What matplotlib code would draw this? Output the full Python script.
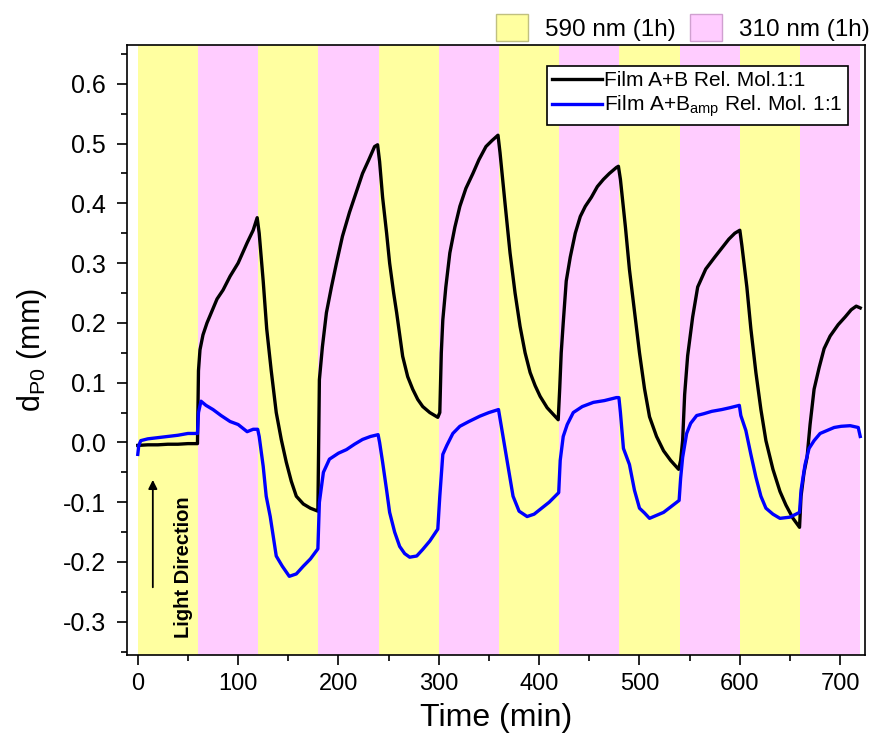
import matplotlib
matplotlib.use("Agg")
import matplotlib.pyplot as plt
from matplotlib.patches import Patch
from matplotlib.ticker import MultipleLocator, FormatStrFormatter

plt.rcParams['font.family'] = ['Liberation Sans', 'DejaVu Sans']

# illumination periods (min)
band_edges = [0, 60, 120, 180, 240, 300, 360, 420, 480, 540, 600, 660, 720]
band_light = ['590', '310', '590', '310', '590', '310', '590', '310', '590', '310', '590', '310']
light_colors = {'590': '#ffffa0', '310': '#ffccff'}

# Film A+B Rel. Mol. 1:1
t_ab = [0, 10, 20, 30, 40, 50, 59.5,
        60.5, 62, 65, 69, 74, 79, 85, 92, 100, 109, 115, 119,
        121, 125, 128.5, 133, 138, 143, 148, 153, 158, 165, 172, 179.5,
        181, 184, 188, 193, 198, 204, 211, 218, 224, 230, 236, 239,
        241, 244, 248, 251, 255, 258, 261, 264, 269, 274, 279, 284, 291, 299,
        301, 302.5, 304, 307, 311, 316, 321, 327, 334, 340, 347, 353, 359,
        361, 366, 371, 376, 381, 386, 391, 396, 401, 408, 414, 419,
        420.5, 422, 424, 427, 431, 436, 441, 446, 452, 458, 464, 470, 477, 479,
        481, 486, 490, 495, 500, 505, 510, 517, 524, 531, 539,
        541, 543, 545, 548, 553, 558, 566, 575, 582, 589, 595, 600,
        602, 607, 611, 616, 621, 626, 633, 640, 646, 653, 659.5,
        661, 664, 667, 670, 674, 679, 684, 690, 698, 705, 711, 716, 720]
d_ab = [-0.005, -0.004, -0.004, -0.003, -0.003, -0.002, -0.002,
        0.12, 0.155, 0.18, 0.20, 0.22, 0.24, 0.255, 0.278, 0.30, 0.334, 0.355, 0.376,
        0.35, 0.27, 0.19, 0.12, 0.05, 0.005, -0.033, -0.065, -0.09, -0.103, -0.11, -0.115,
        0.105, 0.16, 0.217, 0.26, 0.30, 0.345, 0.385, 0.42, 0.45, 0.472, 0.495, 0.498,
        0.47, 0.41, 0.35, 0.30, 0.25, 0.217, 0.18, 0.144, 0.11, 0.089, 0.072, 0.06, 0.05, 0.042,
        0.05, 0.15, 0.205, 0.26, 0.317, 0.36, 0.395, 0.425, 0.45, 0.473, 0.495, 0.505, 0.514,
        0.485, 0.40, 0.317, 0.25, 0.194, 0.15, 0.117, 0.095, 0.077, 0.058, 0.047, 0.038,
        0.09, 0.15, 0.20, 0.27, 0.31, 0.35, 0.378, 0.395, 0.41, 0.428, 0.44, 0.45, 0.46, 0.462,
        0.44, 0.36, 0.289, 0.22, 0.15, 0.09, 0.043, 0.01, -0.014, -0.03, -0.045,
        -0.03, 0.003, 0.08, 0.145, 0.21, 0.26, 0.29, 0.31, 0.325, 0.34, 0.35, 0.355,
        0.33, 0.26, 0.19, 0.117, 0.055, 0.003, -0.045, -0.082, -0.105, -0.127, -0.142,
        -0.09, -0.05, -0.025, 0.03, 0.089, 0.125, 0.157, 0.178, 0.197, 0.21, 0.222, 0.228, 0.225]

# Film A+B_amp Rel. Mol. 1:1
t_amp = [0, 1, 3, 10, 20, 30, 40, 50, 59.5,
         60.5, 63, 68, 75, 83, 92, 100, 109, 115, 119.5,
         121, 125, 128, 132, 138, 144, 151, 158, 165, 172, 179.5,
         181, 185, 191, 200, 208, 216, 224, 232, 239.5,
         241, 244, 248, 251, 256, 261, 266, 271, 278, 284, 291, 299,
         301, 304, 308, 314, 321, 330, 341, 350, 359.5,
         361, 364, 369, 374, 380, 388, 395, 401, 410, 419.5,
         421, 424, 428, 434, 443, 454, 465, 477, 479.5,
         481, 484, 490, 495, 500, 505, 510, 517, 524, 531, 539.5,
         541, 543, 547, 551, 557, 564, 572, 582, 590, 599.5,
         601, 606, 611, 616, 621, 626, 633, 640, 650, 659.5,
         661, 665, 669, 674, 680, 687, 694, 701, 710, 718, 720]
d_amp = [-0.02, -0.005, 0.003, 0.006, 0.008, 0.010, 0.012, 0.015, 0.015,
         0.05, 0.069, 0.062, 0.055, 0.045, 0.035, 0.030, 0.018, 0.022, 0.022,
         0.01, -0.04, -0.09, -0.124, -0.19, -0.207, -0.224, -0.22, -0.207, -0.195, -0.178,
         -0.10, -0.05, -0.028, -0.018, -0.012, -0.003, 0.005, 0.010, 0.013,
         0.0, -0.033, -0.08, -0.117, -0.15, -0.174, -0.186, -0.192, -0.19, -0.179, -0.165, -0.145,
         -0.09, -0.02, -0.005, 0.015, 0.027, 0.035, 0.044, 0.050, 0.055,
         0.04, 0.01, -0.04, -0.09, -0.115, -0.124, -0.12, -0.112, -0.10, -0.084,
         -0.03, 0.01, 0.03, 0.05, 0.06, 0.067, 0.07, 0.075, 0.075,
         0.05, -0.01, -0.037, -0.08, -0.11, -0.118, -0.127, -0.122, -0.117, -0.108, -0.097,
         -0.06, -0.025, 0.015, 0.032, 0.045, 0.048, 0.052, 0.055, 0.058, 0.062,
         0.045, 0.02, -0.02, -0.058, -0.09, -0.11, -0.12, -0.127, -0.125, -0.117,
         -0.08, -0.037, -0.01, 0.003, 0.015, 0.02, 0.025, 0.027, 0.028, 0.025, 0.01]

fig = plt.figure(figsize=(8.74, 7.49), dpi=100)
ax = fig.add_axes([0.145, 0.126, 0.845, 0.814])

for i, lt in enumerate(band_light):
    ax.axvspan(band_edges[i], band_edges[i + 1], color=light_colors[lt], lw=0, zorder=0)

ax.plot(t_ab, d_ab, color='black', lw=2.4, label='Film A+B Rel. Mol.1:1', zorder=3)
ax.plot(t_amp, d_amp, color='#0000ff', lw=2.4,
        label='Film A+B$_{\\mathregular{amp}}$ Rel. Mol. 1:1', zorder=3)

ax.set_xlim(-11, 725)
ax.set_ylim(-0.355, 0.665)
ax.xaxis.set_major_locator(MultipleLocator(100))
ax.xaxis.set_minor_locator(MultipleLocator(50))
ax.yaxis.set_major_locator(MultipleLocator(0.1))
ax.yaxis.set_minor_locator(MultipleLocator(0.05))
ax.yaxis.set_major_formatter(FormatStrFormatter('%.1f'))
ax.tick_params(which='both', direction='out', top=False, right=False)
ax.tick_params(axis='y', labelsize=18, pad=8)
ax.tick_params(axis='x', labelsize=17, pad=6)
ax.tick_params(which='major', length=7, width=1.2)
ax.tick_params(which='minor', length=4, width=1.2)
for s in ax.spines.values():
    s.set_linewidth(1.2)
ax.set_xlabel('Time (min)', fontsize=23, labelpad=6)
ax.set_ylabel('d$_{\\mathregular{P0}}$ (mm)', fontsize=22, labelpad=10)

# light direction arrow
ax.annotate('', xy=(15, -0.058), xytext=(15, -0.247),
            arrowprops=dict(arrowstyle='-|>', color='black', lw=1.3, mutation_scale=13))
ax.text(46, -0.208, 'Light Direction', rotation=90, ha='center', va='center',
        fontsize=14.5, fontweight='bold')

leg = ax.legend(loc='upper right', bbox_to_anchor=(0.976, 0.965), fontsize=15,
                frameon=True, fancybox=False, edgecolor='black', framealpha=1,
                handlelength=2.4, borderpad=0.25, labelspacing=0.15, handletextpad=0.1,
                borderaxespad=0)
leg.get_frame().set_linewidth(1.2)

handles = [Patch(facecolor=light_colors['590'], edgecolor='#c0c080', label='590 nm (1h)'),
           Patch(facecolor=light_colors['310'], edgecolor='#d0a0d0', label='310 nm (1h)')]
fig.legend(handles=handles, loc='upper right', bbox_to_anchor=(1.02, 1.01), ncol=2,
           frameon=False, fontsize=17.5, handlelength=1.3, handleheight=1.3,
           columnspacing=0.6, handletextpad=0.7)

fig.savefig('out.png', dpi=100)
